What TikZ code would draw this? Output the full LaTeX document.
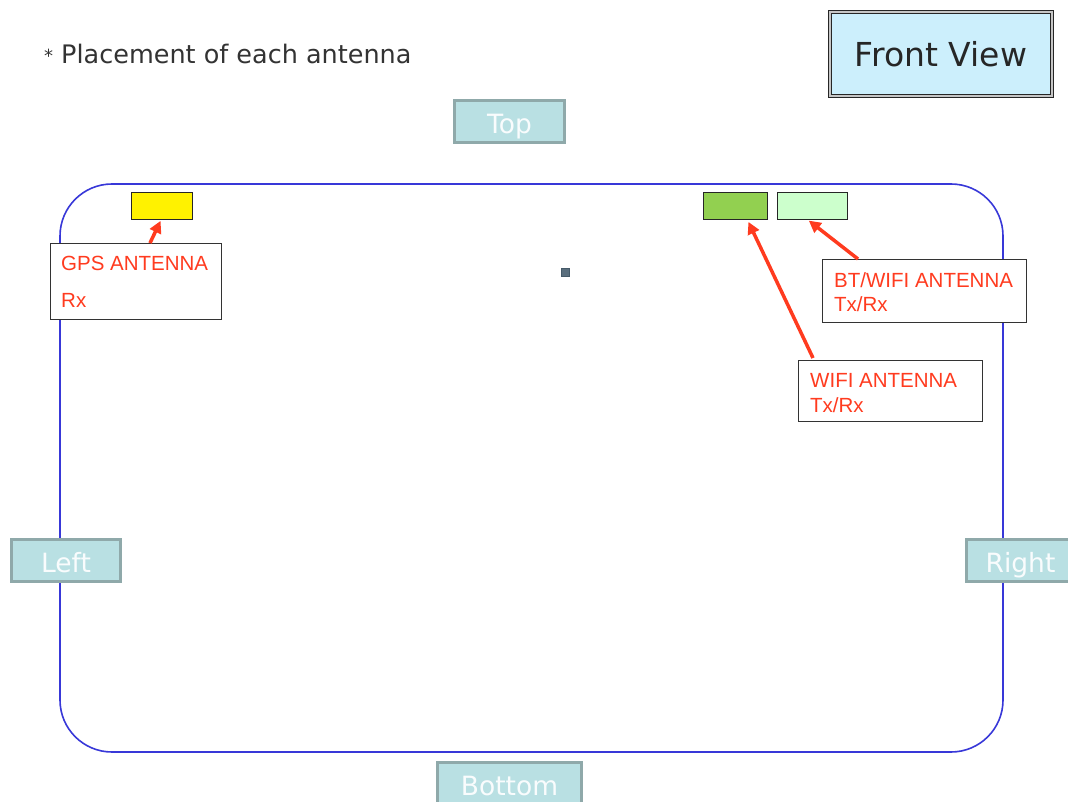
\documentclass[tikz,border=0pt]{standalone}
\usepackage{fontspec}
\setmainfont{Liberation Sans}
\newfontfamily\widefont{DejaVu Sans}
\usetikzlibrary{arrows.meta}
\definecolor{lblred}{HTML}{FF3B1F}
\definecolor{dirfill}{HTML}{B9E0E3}
\definecolor{dirline}{HTML}{8FA9AA}
\definecolor{outline}{HTML}{3838D8}
\newcommand{\dirtxt}[1]{\raisebox{0pt}[24pt][0pt]{#1}}
\tikzset{
  dirbox/.style={draw=dirline, line width=3pt, fill=dirfill, text=white!92!dirfill, font=\widefont\fontsize{26.5}{28}\selectfont, inner sep=0pt, anchor=north west},
  lblbox/.style={draw=black!80, line width=1pt, fill=white, anchor=north west, inner sep=0pt},
  lbltext/.style={anchor=base west, text=lblred, font=\fontsize{20.5}{24}\selectfont, inner sep=0pt},
  ant/.style={draw=black!85, line width=1pt, anchor=north west, inner sep=0pt},
  redarrow/.style={draw=lblred, line width=3.5pt, -{Triangle[length=12pt,width=12pt]}, shorten >=1pt},
}
\begin{document}
\begin{tikzpicture}[x=1pt,y=-1pt]
\useasboundingbox (0,0) rectangle (1068,802);
% title
\node[anchor=base west, font=\widefont\fontsize{25.5}{28}\selectfont, text=black!80, inner sep=0pt] (title) at (44,64) {\raisebox{1pt}{\fontsize{18}{20}\selectfont*}\hspace{8pt}Placement of each antenna};
% front view box
\node[draw=black!85, double=gray!45, double distance=1.6pt, line width=1pt, fill=cyan!20, minimum width=222pt, minimum height=84pt, anchor=north west, font=\widefont\fontsize{33}{36}\selectfont, text=black!85] (front) at (829.5,11.5) {\raisebox{0pt}[25pt][0pt]{Front View}};
% outline
\draw[outline, line width=1.6pt, rounded corners=52pt] (60,184) rectangle (1003,752);
% direction boxes
\node[dirbox, minimum width=110pt, minimum height=42pt] (top) at (453,99) {\dirtxt{Top}};
\node[dirbox, minimum width=109pt, minimum height=42pt] (left) at (10,538) {\dirtxt{Left}};
\node[dirbox, minimum width=108pt, minimum height=42pt] (right) at (965,538) {\dirtxt{Right}};
\node[dirbox, minimum width=144pt, minimum height=42pt] (bottom) at (436,761) {\dirtxt{Bottom}};
% antennas
\node[ant, fill=yellow, minimum width=61pt, minimum height=27pt] (gps) at (131,192) {};
\node[ant, fill={rgb,255:red,146;green,208;blue,80}, minimum width=64pt, minimum height=27pt] (wifi) at (703,192) {};
\node[ant, fill={rgb,255:red,204;green,255;blue,204}, minimum width=70pt, minimum height=27pt] (bt) at (777,192) {};
% small square
\node[draw={rgb,255:red,70;green,90;blue,105}, fill={rgb,255:red,90;green,110;blue,125}, line width=1.5pt, minimum width=8pt, minimum height=8pt, inner sep=0pt] (dot) at (565.5,272.5) {};
% label boxes
\node[lblbox, minimum width=171pt, minimum height=76pt] (gpsl) at (50,243) {};
\node[lbltext] (gpst1) at (61,271) {GPS ANTENNA};
\node[lbltext] (gpst2) at (61,308) {Rx};
\node[lblbox, minimum width=204pt, minimum height=63pt] (btl) at (822,259) {};
\node[lbltext] (btt1) at (834,288) {BT/WIFI ANTENNA};
\node[lbltext] (btt2) at (834,312) {Tx/Rx};
\node[lblbox, minimum width=184pt, minimum height=61pt] (wifil) at (798,360) {};
\node[lbltext] (wifit1) at (810,387) {WIFI ANTENNA};
\node[lbltext] (wifit2) at (810,412) {Tx/Rx};
% arrows
\coordinate (a1) at (150,243);
\coordinate (a2) at (858,259);
\coordinate (a3) at (813,358);
\coordinate (h1) at (161,220);
\coordinate (h2) at (808,220);
\coordinate (h3) at (748,221);
\draw[redarrow] (a1) -- (h1);
\draw[redarrow] (a2) -- (h2);
\draw[redarrow] (a3) -- (h3);
\end{tikzpicture}
\end{document}
